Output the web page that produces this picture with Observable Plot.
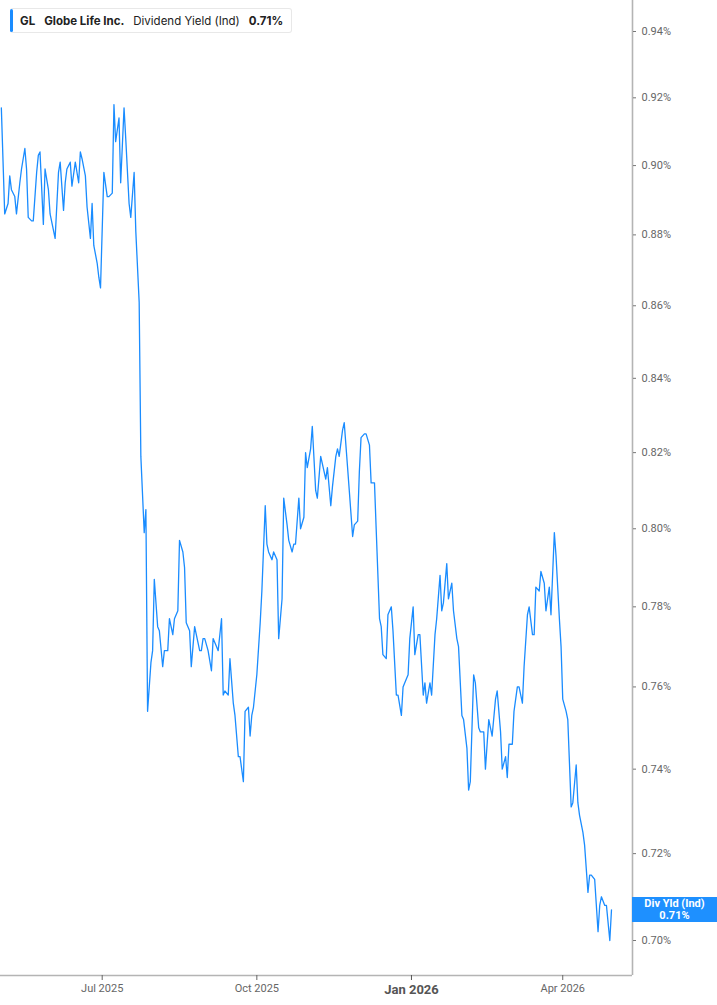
<!DOCTYPE html>
<html>
<head>
<meta charset="utf-8">
<script src="https://cdn.jsdelivr.net/npm/d3@7"></script>
<script src="https://cdn.jsdelivr.net/npm/@observablehq/plot@0.6"></script>
<style>
  html, body { margin: 0; padding: 0; background: #fff; }
  #wrap { position: relative; width: 717px; height: 1005px; overflow: hidden; font-family: Inter, Roboto, sans-serif; }
  #legend { position: absolute; left: 10px; top: 8px; height: 25px; box-sizing: border-box; padding: 0 8px 0 10px;
    display: flex; align-items: center; background: #fff; border: 1px solid #e8e8e8; border-left: none; border-radius: 3px;
    font-size: 11.5px; color: #222; white-space: nowrap; }
  #legend .bar { position: absolute; left: 0; top: 0; bottom: 0; width: 3px; background: #1a8cff; border-radius: 2px; }
  #legend .it { margin-right: 9px; }
  #legend .it:last-child { margin-right: 0; }
  #legend b { font-weight: 700; }
  #endlabel { position: absolute; background: #1e90ff; color: #fff; font-family: Roboto, sans-serif; font-weight: 700;
    font-size: 11px; line-height: 11px; text-align: center; display: flex; flex-direction: column; justify-content: center; }
</style>
</head>
<body>
<div id="wrap"></div>
<script>
// ---- data ----
const ticker = "GL";
const company = "Globe Life Inc.";
const metric = "Dividend Yield (Ind)";
const shortMetric = "Div Yld (Ind)";

const dates = [
"2025-05-02","2025-05-04","2025-05-06","2025-05-07","2025-05-08","2025-05-10","2025-05-11","2025-05-13","2025-05-14","2025-05-16",
"2025-05-17","2025-05-18","2025-05-20","2025-05-21","2025-05-23","2025-05-24","2025-05-25","2025-05-27","2025-05-28","2025-05-30",
"2025-05-31","2025-06-03","2025-06-05","2025-06-06","2025-06-08","2025-06-09","2025-06-10","2025-06-12","2025-06-13","2025-06-15",
"2025-06-17","2025-06-18","2025-06-19","2025-06-21","2025-06-22","2025-06-24","2025-06-25","2025-06-26","2025-06-28","2025-06-29",
"2025-06-30","2025-07-02","2025-07-04","2025-07-05","2025-07-07","2025-07-08","2025-07-09","2025-07-11","2025-07-12","2025-07-14",
"2025-07-15","2025-07-17","2025-07-18","2025-07-20","2025-07-21","2025-07-23","2025-07-24","2025-07-26","2025-07-27","2025-07-28",
"2025-07-30","2025-07-31","2025-08-01","2025-08-03","2025-08-04","2025-08-06","2025-08-07","2025-08-09","2025-08-10","2025-08-12",
"2025-08-13","2025-08-15","2025-08-16","2025-08-18","2025-08-19","2025-08-20","2025-08-22","2025-08-23","2025-08-25","2025-08-26",
"2025-08-28","2025-08-29","2025-08-30","2025-08-31","2025-09-02","2025-09-04","2025-09-05","2025-09-07","2025-09-08","2025-09-10",
"2025-09-11","2025-09-12","2025-09-14","2025-09-15","2025-09-17","2025-09-18","2025-09-20","2025-09-21","2025-09-23","2025-09-24",
"2025-09-26","2025-09-27","2025-09-28","2025-09-29","2025-10-01","2025-10-03","2025-10-04","2025-10-06","2025-10-07","2025-10-08",
"2025-10-10","2025-10-11","2025-10-13","2025-10-14","2025-10-16","2025-10-17","2025-10-19","2025-10-20","2025-10-22","2025-10-23",
"2025-10-24","2025-10-26","2025-10-27","2025-10-29","2025-10-30","2025-10-31","2025-11-02","2025-11-03","2025-11-05","2025-11-06",
"2025-11-08","2025-11-09","2025-11-11","2025-11-12","2025-11-14","2025-11-15","2025-11-17","2025-11-18","2025-11-19","2025-11-21",
"2025-11-22","2025-11-24","2025-11-25","2025-11-27","2025-11-28","2025-11-30","2025-12-01","2025-12-02","2025-12-04","2025-12-05",
"2025-12-07","2025-12-08","2025-12-10","2025-12-11","2025-12-13","2025-12-14","2025-12-15","2025-12-17","2025-12-18","2025-12-20",
"2025-12-21","2025-12-23","2025-12-24","2025-12-26","2025-12-27","2025-12-29","2025-12-30","2025-12-31","2026-01-02","2026-01-03",
"2026-01-05","2026-01-06","2026-01-08","2026-01-09","2026-01-10","2026-01-12","2026-01-13","2026-01-15","2026-01-16","2026-01-18",
"2026-01-19","2026-01-20","2026-01-22","2026-01-23","2026-01-25","2026-01-26","2026-01-28","2026-01-29","2026-01-31","2026-02-01",
"2026-02-03","2026-02-04","2026-02-05","2026-02-07","2026-02-08","2026-02-10","2026-02-11","2026-02-13","2026-02-14","2026-02-16",
"2026-02-17","2026-02-18","2026-02-20","2026-02-21","2026-02-23","2026-02-24","2026-02-26","2026-02-27","2026-02-28","2026-03-02",
"2026-03-03","2026-03-05","2026-03-06","2026-03-08","2026-03-09","2026-03-11","2026-03-12","2026-03-14","2026-03-15","2026-03-16",
"2026-03-18","2026-03-19","2026-03-21","2026-03-22","2026-03-24","2026-03-25","2026-03-27","2026-03-28","2026-03-30","2026-03-31",
"2026-04-01","2026-04-03","2026-04-04","2026-04-06","2026-04-07","2026-04-09","2026-04-10","2026-04-11","2026-04-13","2026-04-14",
"2026-04-16","2026-04-17","2026-04-18","2026-04-20","2026-04-22","2026-04-23","2026-04-24","2026-04-26","2026-04-27","2026-04-29",
"2026-04-30"
];

const yields = [
0.917,0.886,0.889,0.897,0.893,0.891,0.886,0.895,0.899,0.905,
0.899,0.885,0.884,0.884,0.898,0.903,0.904,0.883,0.899,0.893,
0.886,0.879,0.898,0.901,0.887,0.895,0.899,0.901,0.894,0.901,
0.895,0.904,0.902,0.897,0.888,0.879,0.889,0.877,0.872,0.868,
0.865,0.898,0.891,0.891,0.892,0.918,0.907,0.914,0.895,0.917,
0.908,0.889,0.885,0.898,0.881,0.861,0.819,0.799,0.805,0.754,
0.766,0.769,0.787,0.775,0.774,0.765,0.769,0.769,0.777,0.773,
0.777,0.779,0.797,0.794,0.790,0.776,0.774,0.765,0.775,0.773,
0.769,0.769,0.772,0.772,0.769,0.764,0.772,0.770,0.769,0.777,
0.758,0.759,0.758,0.767,0.756,0.753,0.743,0.743,0.737,0.754,
0.755,0.748,0.753,0.755,0.763,0.776,0.784,0.806,0.796,0.794,
0.792,0.794,0.792,0.772,0.782,0.808,0.801,0.797,0.794,0.796,
0.796,0.808,0.800,0.803,0.820,0.816,0.821,0.827,0.810,0.808,
0.819,0.817,0.813,0.816,0.806,0.811,0.819,0.821,0.819,0.826,
0.828,0.816,0.810,0.798,0.801,0.802,0.815,0.824,0.825,0.825,
0.822,0.812,0.812,0.800,0.777,0.775,0.768,0.767,0.778,0.780,
0.774,0.758,0.758,0.753,0.760,0.762,0.763,0.772,0.780,0.768,
0.773,0.773,0.758,0.761,0.756,0.761,0.758,0.773,0.777,0.788,
0.779,0.781,0.791,0.782,0.786,0.779,0.772,0.770,0.753,0.752,
0.745,0.735,0.737,0.763,0.761,0.750,0.749,0.749,0.740,0.752,
0.750,0.748,0.757,0.759,0.749,0.740,0.743,0.738,0.746,0.746,
0.754,0.760,0.760,0.756,0.765,0.778,0.780,0.773,0.773,0.785,
0.784,0.789,0.786,0.779,0.785,0.778,0.799,0.793,0.777,0.770,
0.757,0.754,0.752,0.731,0.732,0.741,0.732,0.729,0.725,0.722,
0.711,0.715,0.715,0.714,0.702,0.708,0.710,0.708,0.708,0.700,
0.707
];

const currentYield = 0.71;
const yTicks = [0.70,0.72,0.74,0.76,0.78,0.80,0.82,0.84,0.86,0.88,0.90,0.92,0.94];
const xTickLabels = ["2025-07-01","2025-10-01","2026-04-01"];
const xTickBold = ["2026-01-01"];
const xDomainStr = ["2025-05-01T12:00:00Z","2026-05-12T12:00:00Z"];
const yDomain = [0.6921, 0.9495];

// ---- build ----
const parse = s => new Date(s.length === 10 ? s + "T00:00:00Z" : s);
const data = dates.map((d, i) => ({date: parse(d), value: yields[i]}));
const xDomain = xDomainStr.map(parse);
const fmtX = d3.utcFormat("%b %Y");
const axisColor = "#b4b4b4";

const chart = Plot.plot({
  width: 717,
  height: 1005,
  marginLeft: 0,
  marginRight: 85,
  marginTop: 0,
  marginBottom: 30,
  style: {fontFamily: "Roboto, sans-serif", background: "#fff", overflow: "visible"},
  x: {type: "utc", domain: xDomain},
  y: {type: "log", domain: yDomain, axis: null},
  marks: [
    Plot.ruleX([xDomain[1]], {stroke: axisColor, strokeWidth: 1.6}),
    Plot.ruleY([yDomain[0]], {stroke: axisColor, strokeWidth: 1.6}),
    // right-hand value axis: tick marks + labels
    Plot.tickY(yTicks, {y: d => d, stroke: "#777", strokeWidth: 1}),
    Plot.text(yTicks, {y: d => d, frameAnchor: "right", dx: 9, textAnchor: "start",
      text: d => d.toFixed(2) + "%", fontSize: 11, fill: "#666"}),
    Plot.axisX({ticks: xTickLabels.map(parse), tickFormat: fmtX, tickSize: 5, tickPadding: 4,
      fontSize: 11, color: "#666", label: null}),
    Plot.axisX({ticks: xTickBold.map(parse), tickFormat: fmtX, tickSize: 5, tickPadding: 4,
      fontSize: 13, fontWeight: "bold", color: "#555", label: null}),
    Plot.line(data, {x: "date", y: "value", stroke: "#1a8cff", strokeWidth: 1.3, curve: "linear"})
  ]
});

// shorten the y tick marks to small outward ticks on the right axis
const xr0 = chart.scale("x").range[1];
chart.querySelectorAll("g[aria-label='tick'] line").forEach(l => {
  l.setAttribute("x1", xr0 + 1);
  l.setAttribute("x2", xr0 + 4);
});

const wrap = document.getElementById("wrap");
wrap.appendChild(chart);

// legend overlay
const legend = document.createElement("div");
legend.id = "legend";
legend.innerHTML = `<span class="bar"></span><b class="it">${ticker}</b><b class="it">${company}</b><span class="it">${metric}</span><b class="it">${currentYield.toFixed(2)}%</b>`;
wrap.appendChild(legend);

// end label positioned via the scales
const ys = chart.scale("y"), xs = chart.scale("x");
const last = data[data.length - 1];
const yc = ys.apply(last.value);
const xr = xs.range[1];
const lab = document.createElement("div");
lab.id = "endlabel";
lab.style.left = xr + "px";
lab.style.width = (717 - xr) + "px";
lab.style.top = (yc - 12.5) + "px";
lab.style.height = "25px";
lab.innerHTML = `<div>${shortMetric}</div><div style="margin-top:1px">${currentYield.toFixed(2)}%</div>`;
wrap.appendChild(lab);
</script>
</body>
</html>
